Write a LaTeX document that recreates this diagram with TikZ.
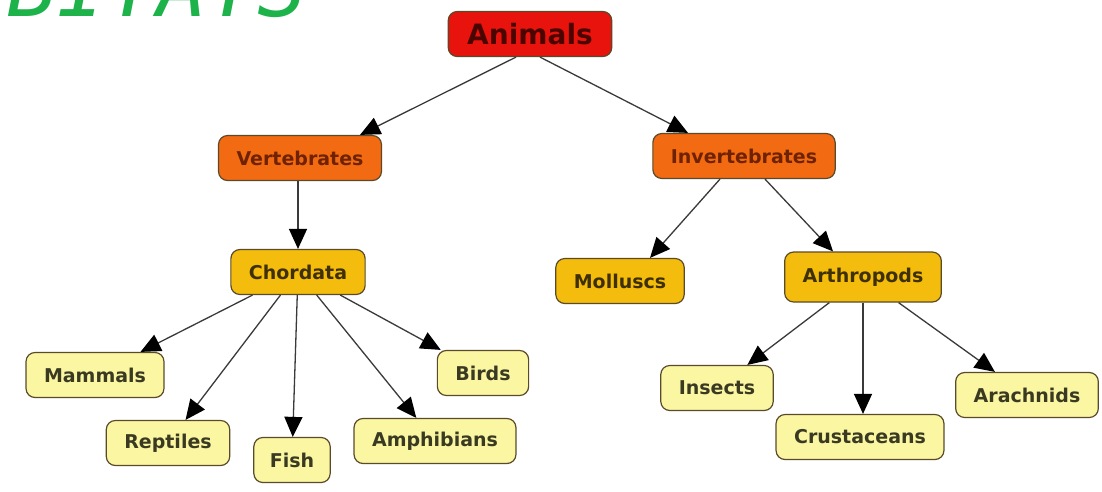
\documentclass[tikz,border=0pt]{standalone}
\usepackage{fontspec}
\usetikzlibrary{arrows.meta}
\newfontfamily\boxfont{DejaVu Sans}
\newfontfamily\titlefont{DejaVu Sans Mono}
\definecolor{rootred}{HTML}{E8130C}
\definecolor{roottext}{HTML}{4A0500}
\definecolor{grouporange}{HTML}{F26A12}
\definecolor{grouptext}{HTML}{6E2200}
\definecolor{classgold}{HTML}{F4BC0C}
\definecolor{classtext}{HTML}{3E3000}
\definecolor{leafyellow}{HTML}{FAF6A2}
\definecolor{leaftext}{HTML}{3A3A22}
\definecolor{boxline}{HTML}{5A4A2A}
\definecolor{linegray}{HTML}{3A3A3A}
\definecolor{titlegreen}{HTML}{1DB34A}
\tikzset{
  box/.style={draw=boxline, line width=1.2pt, rounded corners=9pt,
    inner xsep=18pt, minimum height=45pt,
    font=\boxfont\bfseries\fontsize{19}{22}\selectfont},
  rootbox/.style={box, fill=rootred, text=roottext, inner xsep=19pt,
    font=\boxfont\bfseries\fontsize{28}{32}\selectfont},
  groupbox/.style={box, fill=grouporange, text=grouptext},
  classbox/.style={box, fill=classgold, text=classtext},
  leafbox/.style={box, fill=leafyellow, text=leaftext},
  arr/.style={draw=linegray, line width=1.3pt,
    -{Triangle[length=20pt,width=18pt,color=black]}}
}
\begin{document}
\begin{tikzpicture}[x=1pt,y=-1pt]
  \useasboundingbox[fill=white] (0,0) rectangle (1102,491);
  % cut-off heading at the top
  \begin{scope}
    \clip (0,0) rectangle (1102,491);
    \node[anchor=base west, inner sep=0pt, text=titlegreen,
      font=\titlefont\itshape\fontsize{83}{90}\selectfont] (heading) at (7,16) {BITATS};
  \end{scope}
  % top levels
  \node[rootbox] (animals) at (530,34) {Animals};
  \node[groupbox] (vert) at (300,158) {Vertebrates};
  \node[groupbox] (invert) at (744,156) {Invertebrates};
  \node[classbox] (chordata) at (298,272) {Chordata};
  \node[classbox] (molluscs) at (620,281) {Molluscs};
  \node[classbox, minimum height=50pt] (arthropods) at (863,277) {Arthropods};
  % leaves
  \node[leafbox] (mammals) at (95,375) {Mammals};
  \node[leafbox] (reptiles) at (168,443) {Reptiles};
  \node[leafbox, inner xsep=16pt] (fish) at (292,460) {Fish};
  \node[leafbox] (amphibians) at (435,441) {Amphibians};
  \node[leafbox] (birds) at (483,373) {Birds};
  \node[leafbox] (insects) at (717,388) {Insects};
  \node[leafbox] (crustaceans) at (860,437) {Crustaceans};
  \node[leafbox] (arachnids) at (1027,395) {Arachnids};
  % connectors
  \draw[arr] ([xshift=-14pt]animals.south) -- ([xshift=60pt]vert.north);
  \draw[arr] ([xshift=10pt]animals.south) -- ([xshift=-56pt]invert.north);
  \draw[arr] ([xshift=-2pt]vert.south) -- (chordata.north);
  \draw[arr] ([xshift=-24pt]invert.south) -- ([xshift=30pt]molluscs.north);
  \draw[arr] ([xshift=21pt]invert.south) -- ([xshift=-30pt]arthropods.north);
  \foreach \leaf in {mammals,reptiles,fish,amphibians,birds}
    \draw[arr] (chordata) -- (\leaf);
  \draw[arr] (arthropods) -- (insects);
  \draw[arr] (arthropods.south) -- (arthropods.south |- crustaceans.north);
  \draw[arr] (arthropods) -- (arachnids);
\end{tikzpicture}
\end{document}
